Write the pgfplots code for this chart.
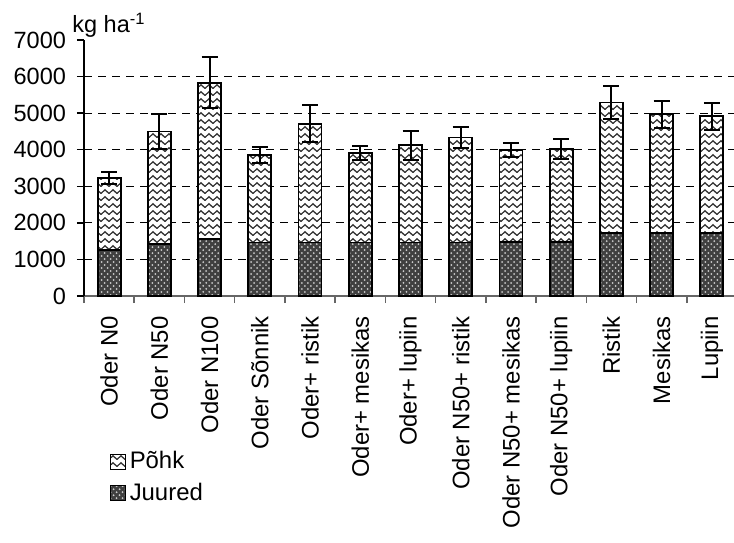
\documentclass[border=0pt]{standalone}
\usepackage{fontspec}
\setmainfont{Liberation Sans}
\usepackage{pgfplots}
\usepackage{pgfplotstable}
\pgfplotsset{compat=1.18}
\usetikzlibrary{patterns}
\pgfdeclarepatternformonly{waves}{\pgfqpoint{0pt}{0pt}}{\pgfqpoint{4pt}{3.5pt}}{\pgfqpoint{4pt}{3.5pt}}{%
  \pgfsetlinewidth{0.65pt}%
  \pgfpathmoveto{\pgfqpoint{0pt}{1.2pt}}%
  \pgfpathcurveto{\pgfqpoint{0.7pt}{2.4pt}}{\pgfqpoint{1.3pt}{2.4pt}}{\pgfqpoint{2pt}{1.2pt}}%
  \pgfpathcurveto{\pgfqpoint{2.7pt}{0.0pt}}{\pgfqpoint{3.3pt}{0.0pt}}{\pgfqpoint{4pt}{1.2pt}}%
  \pgfusepath{stroke}}

\pgfplotstableread{
x j t e
0 1260 3230 160
1 1420 4500 490
2 1565 5830 700
3 1465 3860 220
4 1465 4710 500
5 1465 3915 200
6 1465 4125 400
7 1465 4335 280
8 1470 3990 190
9 1470 4015 270
10 1720 5290 440
11 1720 4975 370
12 1720 4920 370
}\data

\begin{document}
\begin{tikzpicture}[font=\fontsize{11.8}{14}\selectfont]
\path[use as bounding box] (-42bp,-123.5bp) rectangle (325bp,148bp);
\begin{axis}[
  at={(0,0)}, anchor=south west, scale only axis,
  width=326.5bp, height=128bp,
  xmin=-0.5, xmax=12.5, ymin=0, ymax=7000,
  axis x line*=bottom, axis y line*=left,
  x axis line style={black!60, line width=0.8bp},
  y axis line style={black, line width=0.7bp},
  xtick={0,...,12},
  xticklabels={Oder N0,Oder N50,Oder N100,Oder Sõnnik,Oder+ ristik,Oder+ mesikas,Oder+ lupiin,Oder N50+ ristik,Oder N50+ mesikas,Oder N50+ lupiin,Ristik,Mesikas,Lupiin},
  major x tick style={draw=none},
  minor xtick={-0.5,0.5,...,12.5},
  minor x tick style={black!60, line width=0.8bp},
  minor tick length=3.5bp,
  major tick length=3.5bp,
  tick align=outside,
  ytick={0,1000,...,6000},
  extra y ticks={7000},
  extra y tick style={grid=none},
  ymajorgrids,
  major grid style={black, line width=0.5bp, dash pattern=on 4bp off 3bp},
  y tick style={black, line width=0.7bp},
  xticklabel style={rotate=90, anchor=east, inner xsep=6.5bp, font=\fontsize{12}{14}\selectfont},
  yticklabel style={font=\fontsize{11.8}{14}\selectfont, xshift=-2bp},
  /pgf/number format/1000 sep={},
  /pgf/number format/assume math mode=true,
  legend style={at={(0.03,-0.575)}, anchor=north west, draw=none, fill=none,
    font=\fontsize{12}{14}\selectfont, row sep=1.5bp,
    /tikz/every even column/.append style={column sep=4.5bp}},
  legend cell align=left,
  legend image code/.code={\draw[#1, line width=0.5bp] (0bp,-3.7bp) rectangle (7.4bp,3.7bp);},
]
\addplot[ybar, bar width=11.5bp, bar shift=0pt, draw=black, line width=0.9bp,
  fill=white, postaction={pattern=waves, pattern color=black!80}]
  table[x=x, y=t] {\data};
\addlegendentry{Põhk}
\addplot[ybar, bar width=11.5bp, bar shift=0pt, draw=black, line width=0.9bp,
  fill=black!75, postaction={pattern=crosshatch dots, pattern color=gray!40}]
  table[x=x, y=j] {\data};
\addlegendentry{Juured}
\addplot[draw=none, mark=none, forget plot,
  error bars/.cd, y dir=both, y explicit, error mark=|,
  error bar style={black, line width=1bp},
  error mark options={black, mark size=4bp, line width=1bp}]
  table[x=x, y=t, y error=e] {\data};
\end{axis}
\node[anchor=base west, inner sep=0pt] at (-6bp,131.5bp) {kg ha\textsuperscript{-1}};
\end{tikzpicture}
\end{document}
